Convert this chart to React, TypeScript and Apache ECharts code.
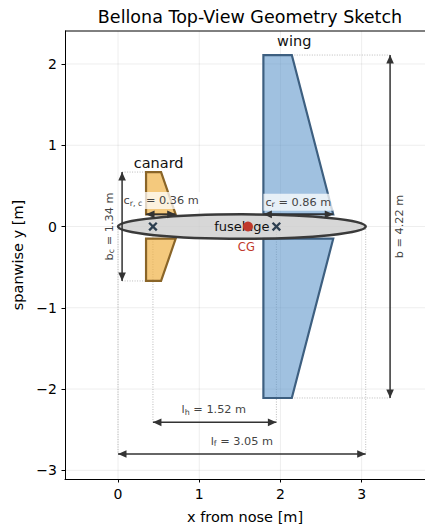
import React, { useEffect, useRef } from "react";
import * as echarts from "echarts";

const FONT = "DejaVu Sans";
const xTicks = [0, 1, 2, 3];
const yTicks = [-3, -2, -1, 0, 1, 2];
const wingUpper = [[1.79, 0.15], [1.79, 2.11], [2.14, 2.11], [2.65, 0.15]];
const wingLower = [[1.79, -0.15], [1.79, -2.11], [2.14, -2.11], [2.65, -0.15]];
const canardUpper = [[0.345, 0.15], [0.345, 0.67], [0.53, 0.67], [0.71, 0.15]];
const canardLower = [[0.345, -0.15], [0.345, -0.67], [0.53, -0.67], [0.71, -0.15]];
const fuselage = [1.525, 0, 1.525, 0.15];
const guides = [
  [[2.14, 2.11], [3.35, 2.11]],
  [[2.14, -2.11], [3.35, -2.11]],
  [[0.05, 0.67], [0.345, 0.67]],
  [[0.05, -0.67], [0.345, -0.67]],
  [[0, 0], [0, -2.8]],
  [[3.05, 0], [3.05, -2.8]],
  [[0.43, 0], [0.43, -2.41]],
  [[1.95, 0], [1.95, -2.41]],
];
const dims = [
  [[3.35, -2.11], [3.35, 2.11]],
  [[0.05, -0.67], [0.05, 0.67]],
  [[0.345, 0.15], [0.71, 0.15]],
  [[1.79, 0.15], [2.65, 0.15]],
  [[0.43, -2.41], [1.95, -2.41]],
  [[0, -2.8], [3.05, -2.8]],
];
const crosses = [[0.43, 0], [1.95, 0]];
const cg = [[1.6, 0]];
const X_MIN = -0.653, X_MAX = 3.78, Y_MIN = -3.107, Y_MAX = 2.406;
const labels: any[] = [
  { p: [0.5, 0.78], text: "{n|canard}", size: 14.5, color: "#111" },
  { p: [2.17, 2.28], text: "{n|wing}", size: 14.5, color: "#111" },
  { p: [1.525, 0], text: "{n|fuselage}", size: 13, color: "#111" },
  { p: [1.58, -0.25], text: "{n|CG}", size: 11.5, color: "#c0392b" },
  { p: [3.47, 0], text: "{n|b = 4.22 m}", size: 11.3, color: "#444", rot: 90 },
  { p: [-0.11, 0], text: "{n|b}{s|c}{n| = 1.34 m}", size: 11.3, color: "#444", rot: 90 },
  { p: [0.53, 0.32], text: "{n|c}{s|r, c}{n| = 0.36 m}", size: 11.3, color: "#444", box: true },
  { p: [2.22, 0.3], text: "{n|c}{s|r}{n| = 0.86 m}", size: 11.3, color: "#444", box: true },
  { p: [1.18, -2.255], text: "{n|l}{s|h}{n| = 1.52 m}", size: 11.3, color: "#444" },
  { p: [1.525, -2.64], text: "{n|l}{s|f}{n| = 3.05 m}", size: 11.3, color: "#444" },
];

const polySeries = (pts: number[][], fill: string, stroke: string, z: number) => ({
  type: "custom", coordinateSystem: "cartesian2d", z, clip: false, silent: true,
  data: [0],
  renderItem: (_: any, api: any) => ({
    type: "polygon",
    shape: { points: pts.map((p) => api.coord(p)) },
    style: { fill, stroke, lineWidth: 2.2, lineJoin: "miter" },
  }),
});

const lineSeries = (data: number[][][], z: number, kind: "guide" | "dim") => ({
  type: "custom", coordinateSystem: "cartesian2d", z, clip: false, silent: true,
  data: data.map((_, i) => i),
  renderItem: (params: any, api: any) => {
    const seg = data[params.dataIndex];
    const a = api.coord(seg[0]);
    const b = api.coord(seg[1]);
    if (kind === "guide") {
      return { type: "line", shape: { x1: a[0], y1: a[1], x2: b[0], y2: b[1] },
        style: { stroke: "#aaaaaa", lineWidth: 0.8, lineDash: [1, 1.5] } };
    }
    const d = Math.hypot(b[0] - a[0], b[1] - a[1]);
    const ux = (b[0] - a[0]) / d, uy = (b[1] - a[1]) / d;
    const head = (t: number[], s: number) => {
      const L = 8.5, W = 3.8;
      const bx = t[0] + s * ux * L, by = t[1] + s * uy * L;
      return { type: "polygon", shape: { points: [t, [bx - uy * W, by + ux * W], [bx + uy * W, by - ux * W]] }, style: { fill: "#333" } };
    };
    return { type: "group", children: [
      { type: "line", shape: { x1: a[0], y1: a[1], x2: b[0], y2: b[1] }, style: { stroke: "#333", lineWidth: 1.5 } },
      head(a, 1), head(b, -1),
    ] };
  },
});

export default function App() {
  const ref = useRef<HTMLDivElement>(null);
  useEffect(() => {
    document.body.style.margin = "0";
    const chart = echarts.init(ref.current!, null, { renderer: "svg" });
    const axisCommon = {
      type: "value",
      axisLine: { show: true, onZero: false, lineStyle: { color: "#000", width: 1 } },
      splitLine: { show: false },
    };
    const gridLines = [
      ...xTicks.map((v) => [[v, Y_MIN], [v, Y_MAX]]),
      ...yTicks.map((v) => [[X_MIN, v], [X_MAX, v]]),
    ];
    const spine = [[X_MIN, Y_MAX], [X_MAX, Y_MAX]];
    chart.setOption({
      animation: false,
      textStyle: { fontFamily: FONT },
      title: { text: "Bellona Top-View Geometry Sketch", left: 245, top: 3, textAlign: "center",
        textStyle: { fontFamily: FONT, fontSize: 17.5, fontWeight: "normal", color: "#000" } },
      grid: { left: 65, top: 31, right: 0, height: 448, show: false, outerBoundsMode: "none" },
      xAxis: { ...axisCommon, min: X_MIN, max: X_MAX, position: "bottom",
        name: "x from nose [m]", nameLocation: "middle", nameGap: 30,
        nameTextStyle: { fontFamily: FONT, fontSize: 14.5, color: "#000" },
        axisTick: { length: 3.5, customValues: xTicks, lineStyle: { color: "#000" } },
        axisLabel: { customValues: xTicks, fontFamily: FONT, fontSize: 14, color: "#000", margin: 8 } },
      yAxis: { ...axisCommon, min: Y_MIN, max: Y_MAX, position: "left",
        name: "spanwise y [m]", nameLocation: "middle", nameGap: 38,
        nameTextStyle: { fontFamily: FONT, fontSize: 14.5, color: "#000" },
        axisTick: { length: 3.5, customValues: yTicks, lineStyle: { color: "#000" } },
        axisLabel: { customValues: yTicks, fontFamily: FONT, fontSize: 14, color: "#000", margin: 8,
          formatter: (v: number) => String(v).replace("-", "\u2212") } },
      series: [
        { type: "custom", coordinateSystem: "cartesian2d", z: 1, silent: true, clip: false,
          data: gridLines.map((_, i) => i),
          renderItem: (p: any, api: any) => {
            const s = gridLines[p.dataIndex];
            const a = api.coord(s[0]), b = api.coord(s[1]);
            return { type: "line", shape: { x1: a[0], y1: a[1], x2: b[0], y2: b[1] },
              style: { stroke: "rgba(0,0,0,0.09)", lineWidth: 0.8 } };
          } },
        { type: "custom", coordinateSystem: "cartesian2d", z: 9, silent: true, clip: false, data: [0],
          renderItem: (_: any, api: any) => {
            const a = api.coord(spine[0]), b = api.coord(spine[1]);
            return { type: "line", shape: { x1: a[0], y1: a[1], x2: b[0], y2: b[1] }, style: { stroke: "#000", lineWidth: 1 } };
          } },
        lineSeries(guides, 2, "guide"),
        polySeries(wingUpper, "rgba(91,148,201,0.58)", "#3d5f80", 3),
        polySeries(wingLower, "rgba(91,148,201,0.58)", "#3d5f80", 3),
        polySeries(canardUpper, "rgba(240,178,70,0.7)", "#8a6528", 3),
        polySeries(canardLower, "rgba(240,178,70,0.7)", "#8a6528", 3),
        { type: "custom", coordinateSystem: "cartesian2d", z: 4, silent: true, clip: false, data: [0],
          renderItem: (_: any, api: any) => {
            const c = api.coord([fuselage[0], fuselage[1]]);
            const s = api.size([fuselage[2], fuselage[3]]);
            return { type: "ellipse", shape: { cx: c[0], cy: c[1], rx: s[0], ry: s[1] },
              style: { fill: "rgba(205,205,205,0.8)", stroke: "#3a3a3a", lineWidth: 2.5 } };
          } },
        { type: "custom", coordinateSystem: "cartesian2d", z: 6, silent: true, clip: false,
          data: labels.map((_, i) => i),
          renderItem: (p: any, api: any) => {
            const l = labels[p.dataIndex];
            const c = api.coord(l.p);
            return { type: "text", x: c[0], y: c[1], rotation: l.rot ? (l.rot * Math.PI) / 180 : 0,
              style: { text: l.text, fontFamily: FONT, fontSize: l.size, fill: l.color, align: "center", verticalAlign: "middle",
                backgroundColor: l.box ? "rgba(255,255,255,0.75)" : undefined, padding: l.box ? [2, 2] : 0,
                rich: {
                  n: { fontFamily: FONT, fontSize: l.size, fill: l.color, color: l.color },
                  s: { fontFamily: FONT, fontSize: l.size * 0.7, fill: l.color, color: l.color, verticalAlign: "bottom", padding: [5, 0, 0, 0] },
                } } };
          } },
        lineSeries(dims, 7, "dim"),
        { type: "custom", coordinateSystem: "cartesian2d", z: 8, silent: true, clip: false,
          data: crosses.map((_, i) => i),
          renderItem: (p: any, api: any) => {
            const c = api.coord(crosses[p.dataIndex]);
            const r = 3.8;
            const style = { stroke: "#2c3e50", lineWidth: 2.3 };
            return { type: "group", children: [
              { type: "line", shape: { x1: c[0] - r, y1: c[1] - r, x2: c[0] + r, y2: c[1] + r }, style },
              { type: "line", shape: { x1: c[0] - r, y1: c[1] + r, x2: c[0] + r, y2: c[1] - r }, style },
            ] };
          } },
        { type: "scatter", z: 8, silent: true, data: cg, symbolSize: 10, itemStyle: { color: "#c0392b", opacity: 1 } },
      ],
    });
    return () => chart.dispose();
  }, []);
  return <div ref={ref} style={{ width: 425, height: 526 }} />;
}
